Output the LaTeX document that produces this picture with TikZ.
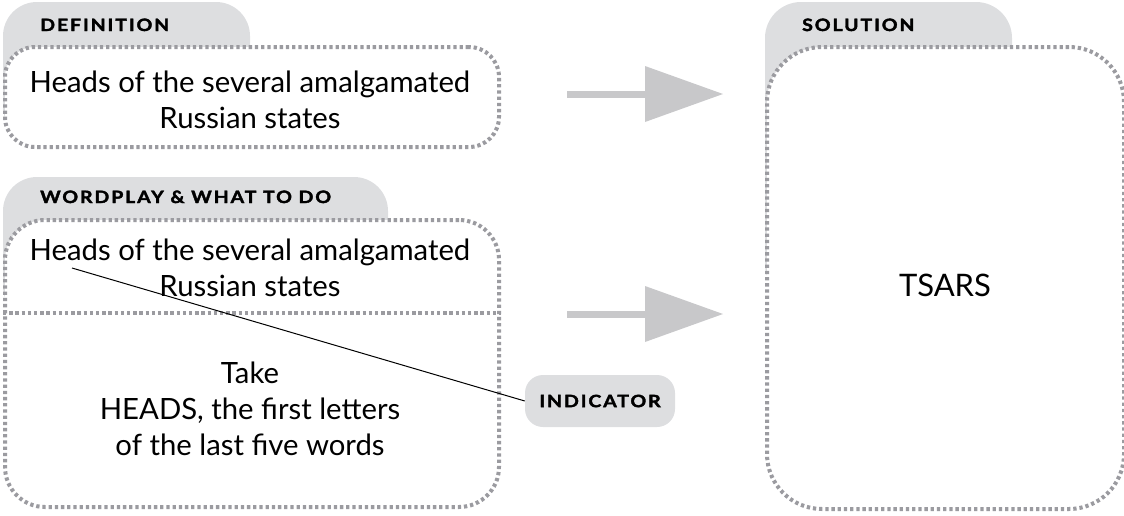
\documentclass[tikz,border=0pt]{standalone}
\usepackage{fontspec}
\setmainfont{Lato}
\newfontfamily\lblfont{Lato}[LetterSpace=11,FakeStretch=1.15,FakeBold=2.2]
\usetikzlibrary{arrows.meta}
\definecolor{tabgray}{RGB}{221,222,224}
\definecolor{dotgray}{RGB}{155,155,160}
\definecolor{arrowgray}{RGB}{200,200,202}
\begin{document}
\begin{tikzpicture}[x=1pt,y=-1pt,
  dotline/.style={draw=dotgray, line width=4pt, dash pattern=on 3.3pt off 2.9pt},
  box/.style={dotline, fill=white, anchor=north west, inner sep=0pt},
  tab/.style={fill=tabgray},
  lblfnt/.style={font=\lblfont\bfseries\fontsize{17}{20}\selectfont},
  lbl/.style={lblfnt, anchor=base west, inner sep=0pt},
  body/.style={font=\fontsize{29.3}{36}\selectfont, align=center, inner sep=0pt},
  bigarrow/.style={draw=arrowgray, line width=7pt, -{Triangle[length=78pt,width=56pt,line width=0pt]}}]

\useasboundingbox (0,0) rectangle (1124,515);

% DEFINITION
\fill[tab, rounded corners=34pt] (3,2) rectangle (250,140);
\node[box, rounded corners=30pt, minimum width=494pt, minimum height=100pt] (def) at (3,45) {};
\node[lbl] (deflbl) at (40,31) {DEFINITION};
\node[body] (deftext) at (250,100) {Heads of the several amalgamated\\Russian states};

% WORDPLAY
\fill[tab, rounded corners=34pt] (3,177) rectangle (388,320);
\node[box, rounded corners=40pt, minimum width=494pt, minimum height=287pt] (wp) at (3,218) {};
\node[lbl] (wplbl) at (40,203) {WORDPLAY \& WHAT TO DO};
\draw[dotline] (wp.west |- {(0,313)}) -- (wp.east |- {(0,313)});
\node[body] (wpclue) at (250,268) {Heads of the several amalgamated\\Russian states};
\node[body] (wptake) at (250,409) {Take\\HEADS, the first letters\\of the last five words};

% INDICATOR
\node[fill=tabgray, rounded corners=18pt, minimum width=150pt, minimum height=52pt, inner sep=0pt,
      lblfnt] (ind) at (600,401) {INDICATOR};
\coordinate (hd) at (72,268);
\draw[line width=1pt] (hd) -- (ind.west);

% SOLUTION
\fill[tab, rounded corners=36pt] (765,2) rectangle (1012,300);
\node[box, rounded corners=55pt, minimum width=357pt, minimum height=462pt] (sol) at (765,45) {};
\node[lbl] (sollbl) at (802,31) {SOLUTION};
\node[font=\fontsize{31}{36}\selectfont, inner sep=0pt] (ans) at (945,285) {TSARS};

% ARROWS
\coordinate (a1s) at (567,94);
\coordinate (a1e) at (723,94);
\coordinate (a2s) at (567,314);
\coordinate (a2e) at (723,314);
\draw[bigarrow] (a1s) -- (a1e);
\draw[bigarrow] (a2s) -- (a2e);
\end{tikzpicture}
\end{document}
